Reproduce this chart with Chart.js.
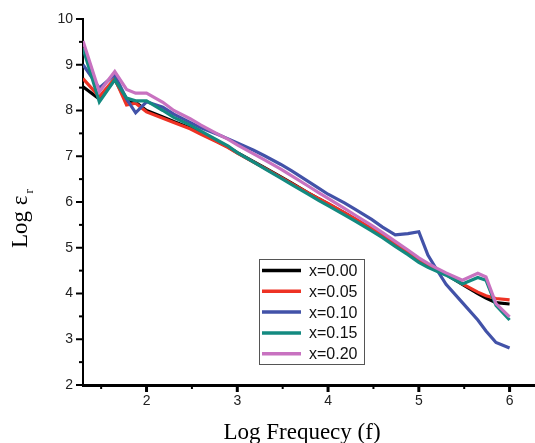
<!DOCTYPE html>
<html>
<head>
<meta charset="utf-8">
<script src="https://cdn.jsdelivr.net/npm/chart.js@4.4.1/dist/chart.umd.min.js"></script>
<style>
  html, body { margin: 0; padding: 0; background: #fff; }
  #wrap { width: 535px; height: 443px; }
</style>
</head>
<body>
<div id="wrap"><canvas id="dielChart" width="535" height="443"></canvas></div>
<script>
// Log frequency points (x axis)
const logF = [1.30, 1.48, 1.65, 1.78, 1.88, 2.00, 2.18, 2.30, 2.48, 2.60, 2.78, 2.90, 3.00, 3.18, 3.30,
              3.48, 3.60, 3.78, 3.90, 4.00, 4.18, 4.30, 4.48, 4.60, 4.74, 4.88, 5.00, 5.10, 5.18, 5.30,
              5.48, 5.65, 5.74, 5.85, 6.00];

// Log dielectric constant for each composition
const x000 = [8.52, 8.25, 8.68, 8.20, 8.18, 8.00, 7.86, 7.76, 7.62, 7.50, 7.32, 7.20, 7.08, 6.88, 6.75,
              6.55, 6.41, 6.20, 6.07, 5.96, 5.76, 5.62, 5.41, 5.26, 5.08, 4.90, 4.73, 4.62, 4.53, 4.42,
              4.20, 4.00, 3.90, 3.80, 3.77];
const x005 = [8.70, 8.30, 8.70, 8.12, 8.16, 7.97, 7.83, 7.74, 7.60, 7.48, 7.31, 7.19, 7.07, 6.87, 6.74,
              6.54, 6.40, 6.20, 6.07, 5.97, 5.77, 5.63, 5.42, 5.27, 5.09, 4.91, 4.74, 4.63, 4.54, 4.43,
              4.21, 4.03, 3.95, 3.89, 3.86];
const x010 = [9.00, 8.49, 8.78, 8.25, 7.95, 8.19, 8.07, 7.92, 7.74, 7.62, 7.48, 7.38, 7.29, 7.13, 7.01,
              6.82, 6.68, 6.45, 6.30, 6.17, 5.98, 5.84, 5.62, 5.45, 5.28, 5.31, 5.35, 4.84, 4.58, 4.20,
              3.80, 3.42, 3.18, 2.93, 2.81];
const x015 = [9.36, 8.19, 8.67, 8.27, 8.21, 8.21, 8.00, 7.85, 7.68, 7.55, 7.35, 7.22, 7.08, 6.87, 6.73,
              6.52, 6.38, 6.17, 6.03, 5.92, 5.72, 5.58, 5.37, 5.22, 5.03, 4.85, 4.68, 4.57, 4.50, 4.40,
              4.21, 4.35, 4.29, 3.74, 3.42];
const x020 = [9.52, 8.41, 8.85, 8.46, 8.38, 8.38, 8.18, 8.00, 7.82, 7.68, 7.49, 7.37, 7.25, 7.05, 6.92,
              6.72, 6.57, 6.35, 6.20, 6.08, 5.86, 5.71, 5.49, 5.33, 5.14, 4.95, 4.78, 4.66, 4.57, 4.45,
              4.29, 4.44, 4.36, 3.78, 3.49];

const seriesLabels = ['x=0.00', 'x=0.05', 'x=0.10', 'x=0.15', 'x=0.20'];
const seriesValues = [x000, x005, x010, x015, x020];
const seriesColors = ['#000000', '#ee3224', '#4252a8', '#138a80', '#c872c0'];

const sansFont = "'Liberation Sans', Arial, sans-serif";
const serifFont = "'Liberation Serif', 'Times New Roman', serif";

function isWhole(v) {
    return Math.abs(v - Math.round(v)) < 1e-6;
}

// Ticks, titles and the boxed legend
const decorPlugin = {
    id: 'decor',
    afterDraw(chart) {
        const ctx = chart.ctx;
        const area = chart.chartArea;
        const xs = chart.scales.x;
        const ys = chart.scales.y;
        ctx.save();
        ctx.strokeStyle = '#000';

        // y tick marks (outward)
        ctx.lineWidth = 2;
        ys.ticks.forEach(t => {
            const py = ys.getPixelForValue(t.value);
            const len = isWhole(t.value) ? 7 : 4;
            ctx.beginPath();
            ctx.moveTo(area.left, py);
            ctx.lineTo(area.left - len, py);
            ctx.stroke();
        });

        // x tick marks (outward)
        xs.ticks.forEach(t => {
            const px = xs.getPixelForValue(t.value);
            const major = isWhole(t.value);
            ctx.lineWidth = major ? 3 : 2;
            ctx.beginPath();
            ctx.moveTo(px, area.bottom);
            ctx.lineTo(px, area.bottom + (major ? 7 : 4));
            ctx.stroke();
        });

        // axis titles
        ctx.fillStyle = '#000';
        ctx.textBaseline = 'alphabetic';
        ctx.font = '23px ' + serifFont;
        ctx.textAlign = 'center';
        ctx.fillText('Log Frequecy (f)', 302, 439);

        ctx.save();
        ctx.translate(27, 248);
        ctx.rotate(-Math.PI / 2);
        ctx.textAlign = 'left';
        ctx.font = '23px ' + serifFont;
        const main = 'Log ε';
        ctx.fillText(main, 0, 0);
        const w = ctx.measureText(main).width;
        ctx.font = '13px ' + serifFont;
        ctx.fillText('r', w + 2, 6);
        ctx.restore();

        // legend box
        const lx = 259, ly = 259, lw = 105, lh = 105;
        ctx.fillStyle = '#fff';
        ctx.fillRect(lx, ly, lw, lh);
        ctx.strokeStyle = '#555';
        ctx.lineWidth = 1;
        ctx.strokeRect(lx + 0.5, ly + 0.5, lw, lh);

        ctx.font = '16px ' + sansFont;
        ctx.textAlign = 'left';
        ctx.textBaseline = 'middle';
        chart.data.datasets.forEach((ds, i) => {
            const ry = 270.5 + i * 20.8;
            ctx.strokeStyle = ds.borderColor;
            ctx.lineWidth = 3.5;
            ctx.beginPath();
            ctx.moveTo(262, ry);
            ctx.lineTo(301, ry);
            ctx.stroke();
            ctx.fillStyle = '#111';
            ctx.fillText(ds.label, 309, ry + 1);
        });

        ctx.restore();
    }
};

// ticks on every half unit inside the axis range
function onHalfSteps(scale) {
    const ticks = [];
    for (let v = Math.ceil(scale.min * 2) / 2; v <= scale.max + 1e-9; v += 0.5) {
        ticks.push({ value: Math.round(v * 2) / 2 });
    }
    scale.ticks = ticks;
}

const datasets = seriesLabels.map((label, i) => ({
    label: label,
    data: logF.map((f, j) => ({ x: f, y: seriesValues[i][j] })),
    borderColor: seriesColors[i],
    backgroundColor: seriesColors[i],
    borderWidth: 3.2,
    pointRadius: 0,
    tension: 0,
    fill: false,
    order: seriesLabels.length - 1 - i
}));

new Chart(document.getElementById('dielChart'), {
    type: 'line',
    data: { datasets: datasets },
    options: {
        responsive: false,
        animation: false,
        devicePixelRatio: 1,
        layout: { padding: { top: 19, right: 0, left: 0, bottom: 0 } },
        plugins: {
            legend: { display: false },
            tooltip: { enabled: false }
        },
        scales: {
            x: {
                type: 'linear',
                min: 1.3,
                max: 6.28,
                afterFit: s => { s.height = 58; },
                afterBuildTicks: onHalfSteps,
                ticks: {
                    autoSkip: false,
                    maxRotation: 0,
                    padding: 8,
                    color: '#222',
                    font: { family: sansFont, size: 14 },
                    callback: v => isWhole(v) ? String(Math.round(v)) : ''
                },
                grid: { display: false, drawTicks: false },
                border: { display: true, color: '#000', width: 3 }
            },
            y: {
                type: 'linear',
                min: 2,
                max: 10,
                afterFit: s => { s.width = 83; },
                afterBuildTicks: onHalfSteps,
                ticks: {
                    autoSkip: false,
                    padding: 10,
                    color: '#222',
                    font: { family: sansFont, size: 14 },
                    callback: v => isWhole(v) ? String(Math.round(v)) : ''
                },
                grid: { display: false, drawTicks: false },
                border: { display: true, color: '#000', width: 2 }
            }
        }
    },
    plugins: [decorPlugin]
});
</script>
</body>
</html>
